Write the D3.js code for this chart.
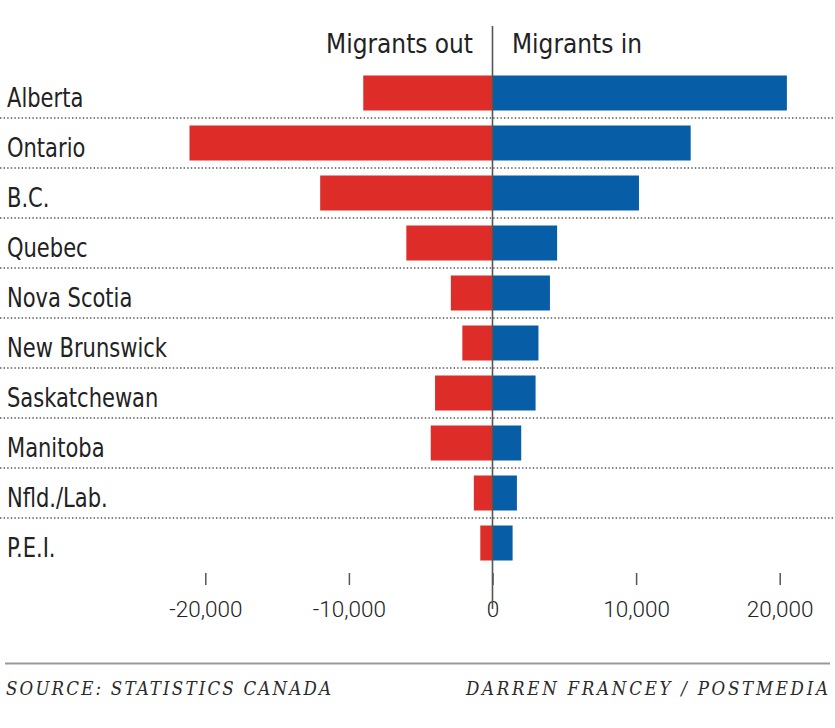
<!DOCTYPE html>
<html>
<head>
<meta charset="utf-8">
<script src="https://cdn.jsdelivr.net/npm/d3@7/dist/d3.min.js"></script>
<style>
  html, body { margin: 0; padding: 0; background: #fff; }
  svg { display: block; }
</style>
</head>
<body>
<script>
const provinces = ["Alberta","Ontario","B.C.","Quebec","Nova Scotia","New Brunswick","Saskatchewan","Manitoba","Nfld./Lab.","P.E.I."];
const migrantsOut = [-9000,-21100,-12000,-6000,-2900,-2100,-4000,-4300,-1300,-850];
const migrantsIn  = [20500,13800,10200,4500,4000,3200,3000,2000,1700,1400];
const tickValues = [-20000,-10000,0,10000,20000];
const headers = ["Migrants out","Migrants in"];
const sourceText = "SOURCE: STATISTICS CANADA";
const creditText = "DARREN FRANCEY / POSTMEDIA";

const W = 835, H = 728;
const svg = d3.select("body").append("svg").attr("width", W).attr("height", H);

const x = d3.scaleLinear().domain([-20000, 20000]).range([205.3, 779.7]);
const y = d3.scaleBand().domain(provinces).range([68, 568]).paddingInner(0.3).paddingOuter(0.15);

const labelFont = "'Liberation Sans Narrow', 'DejaVu Sans Condensed', sans-serif";

// dotted separators
const step = y.step();
svg.append("g").selectAll("line")
  .data(provinces.slice(0, -1))
  .join("line")
  .attr("x1", 0).attr("x2", W)
  .attr("y1", d => y(d) + y.bandwidth() + (step - y.bandwidth()) / 2)
  .attr("y2", d => y(d) + y.bandwidth() + (step - y.bandwidth()) / 2)
  .attr("stroke", "#555")
  .attr("stroke-width", 1.6)
  .attr("stroke-dasharray", "1.4,2.2");

// bars
svg.append("g").selectAll("rect")
  .data(provinces)
  .join("rect")
  .attr("x", (d, i) => x(migrantsOut[i]))
  .attr("width", (d, i) => x(0) - x(migrantsOut[i]))
  .attr("y", d => y(d))
  .attr("height", y.bandwidth())
  .attr("fill", "#de2d29");

svg.append("g").selectAll("rect")
  .data(provinces)
  .join("rect")
  .attr("x", x(0))
  .attr("width", (d, i) => x(migrantsIn[i]) - x(0))
  .attr("y", d => y(d))
  .attr("height", y.bandwidth())
  .attr("fill", "#075ea6");

// category labels (condensed horizontally to match the narrow face)
const labG = svg.append("g");
const labs = labG.selectAll("text")
  .data(provinces)
  .join("text")
  .attr("x", 0)
  .attr("y", d => y(d) + 32)
  .attr("font-family", labelFont)
  .attr("font-size", 27)
  .attr("fill", "#222")
  .text(d => d);
const nb = labs.filter(d => d === "New Brunswick").node().getComputedTextLength();
const sx = Math.min(1, 160 / nb);
labG.attr("transform", `translate(7,0) scale(${sx},1)`);

// headers
const hOut = svg.append("text").attr("y", 53.5)
  .attr("text-anchor", "end")
  .attr("font-family", labelFont).attr("font-size", 26.5).attr("fill", "#222")
  .text(headers[0]);
const hw = hOut.node().getComputedTextLength();
const hsx = Math.min(1, 147 / hw);
hOut.attr("transform", `translate(473,0) scale(${hsx},1)`);
svg.append("text").attr("y", 53.5)
  .attr("font-family", labelFont).attr("font-size", 26.5).attr("fill", "#222")
  .attr("transform", `translate(512,0) scale(${hsx},1)`)
  .text(headers[1]);

// axis
const axis = d3.axisBottom(x)
  .tickValues(tickValues)
  .tickSize(12)
  .tickPadding(18)
  .tickFormat(d => d < 0 ? "-" + d3.format(",")(-d) : d3.format(",")(d));
const ax = svg.append("g").attr("transform", "translate(0,573)").call(axis);
ax.select(".domain").remove();
ax.selectAll(".tick line").attr("stroke", "#555").attr("stroke-width", 1.5);
ax.selectAll(".tick text")
  .attr("font-family", "Roboto, 'Open Sans', sans-serif")
  .attr("font-weight", 300)
  .attr("font-size", 22.5)
  .attr("fill", "#222")
  .attr("dy", null)
  .attr("y", 44);

// central vertical axis line
svg.append("line")
  .attr("x1", x(0)).attr("x2", x(0))
  .attr("y1", 26).attr("y2", 609)
  .attr("stroke", "#555").attr("stroke-width", 1.6);

// footer
svg.append("line").attr("x1", 5).attr("x2", 830).attr("y1", 663.5).attr("y2", 663.5)
  .attr("stroke", "#999").attr("stroke-width", 2);

svg.append("text").attr("x", 6).attr("y", 695)
  .attr("font-family", "'DejaVu Serif Condensed', 'DejaVu Serif', serif").attr("font-style", "italic")
  .attr("font-size", 18.5).attr("fill", "#2a2a2a")
  .attr("textLength", 325).attr("lengthAdjust", "spacing")
  .text(sourceText);
svg.append("text").attr("x", 466).attr("y", 695)
  .attr("font-family", "'DejaVu Serif Condensed', 'DejaVu Serif', serif").attr("font-style", "italic")
  .attr("font-size", 18.5).attr("fill", "#2a2a2a")
  .attr("textLength", 362).attr("lengthAdjust", "spacing")
  .text(creditText);
</script>
</body>
</html>
